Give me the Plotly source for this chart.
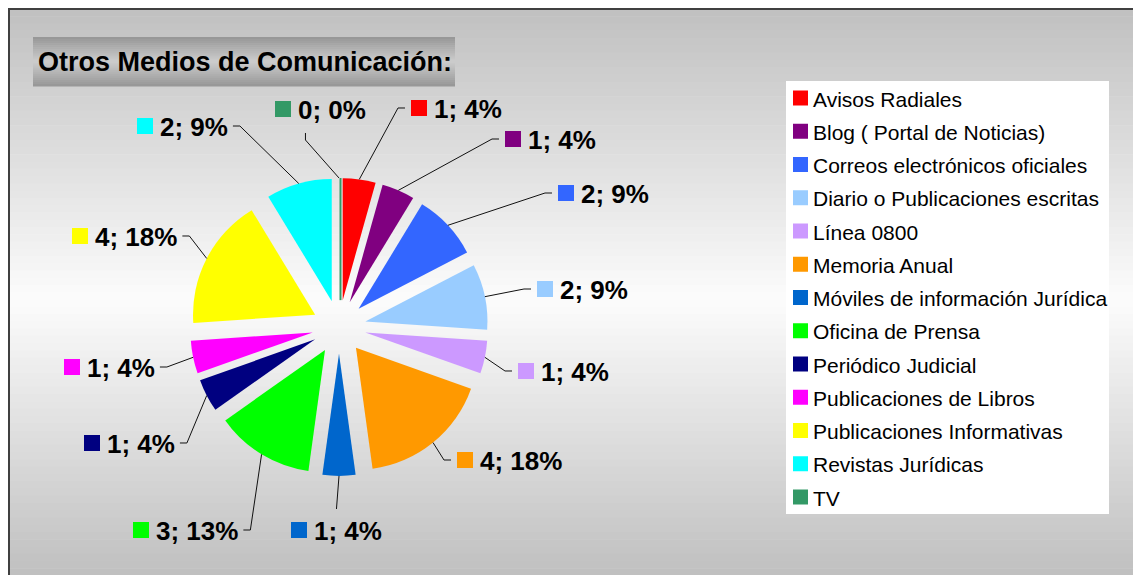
import math
import plotly.graph_objects as go

# ---------------- data ----------------
categories = [
    "Avisos Radiales", "Blog ( Portal de Noticias)", "Correos electrónicos oficiales",
    "Diario o Publicaciones escritas", "Línea 0800", "Memoria Anual",
    "Móviles de información Jurídica", "Oficina de Prensa", "Periódico Judicial",
    "Publicaciones de Libros", "Publicaciones Informativas", "Revistas Jurídicas", "TV",
]
values = [1, 1, 2, 2, 1, 4, 1, 3, 1, 1, 4, 2, 0]
pct_labels = [4, 4, 9, 9, 4, 18, 4, 13, 4, 4, 18, 9, 0]
title_text = "Otros Medios de Comunicación:"

# ---------------- styles / layout ----------------
colors = ["#FF0000", "#800080", "#3366FF", "#99CCFF", "#CC99FF", "#FF9900",
          "#0066CC", "#00FF00", "#000080", "#FF00FF", "#FFFF00", "#00FFFF", "#339966"]
W, H = 1141, 575
OFF = 8                    # page body margin compensation
CX, CY = 339, 327          # pie centre (screen px)
R_TOT = 149                # radius incl. explode (px)
PULL = 0.22
R_PIE = R_TOT / (1 + PULL)
FONT = "Liberation Sans, Arial, sans-serif"
LBL_SIZE = 26

# label placement: (square-left x, centre y, connection side)
label_layout = [
    (411, 108, "L"), (505, 139, "L"), (558, 193, "L"), (537, 289, "L"),
    (518, 371, "L"), (457, 460, "L"), (291, 530, "T"), (133, 530, "R"),
    (84, 443, "R"), (64, 367, "R"), (72, 236, "R"), (137, 126, "R"), (275, 109, "B"),
]


def px(x):
    return (x - OFF) / W


def py(y):
    return 1 - (y - OFF) / H


BOLD_W = {"0": .556, "1": .556, "2": .556, "3": .556, "4": .556, "5": .556, "6": .556,
          "7": .556, "8": .556, "9": .556, ";": .333, " ": .278, "%": .889}


def text_w(s):
    return sum(BOLD_W.get(c, .6) for c in s) * LBL_SIZE


shapes = []
annotations = []


def lerp(c1, c2, t):
    return tuple(round(a + (b - a) * t) for a, b in zip(c1, c2))


# background gradient
stops = [(9, (192, 192, 192)), (300, (252, 252, 252)), (590, (188, 188, 188))]
N = 80
y0, y1 = 9, 590
for i in range(N):
    ya = y0 + (y1 - y0) * i / N
    yb = y0 + (y1 - y0) * (i + 1) / N
    ym = (ya + yb) / 2
    for (sa, ca), (sb, cb) in zip(stops[:-1], stops[1:]):
        if sa <= ym <= sb:
            c = lerp(ca, cb, (ym - sa) / (sb - sa))
            break
    shapes.append(dict(type="rect", xref="paper", yref="paper", layer="below",
                       x0=px(9), x1=px(1139), y0=py(ya), y1=py(yb + 0.6),
                       fillcolor="rgb(%d,%d,%d)" % c, line=dict(width=0)))
# border
shapes.append(dict(type="rect", xref="paper", yref="paper", layer="below",
                   x0=px(9), x1=px(1139), y0=py(9), y1=py(590),
                   line=dict(color="#404040", width=2), fillcolor="rgba(0,0,0,0)"))

# title box gradient
tb = (33, 37, 455, 86)
TN = 24
for i in range(TN):
    ya = tb[1] + (tb[3] - tb[1]) * i / TN
    yb = tb[1] + (tb[3] - tb[1]) * (i + 1) / TN
    t = ((ya + yb) / 2 - tb[1]) / (tb[3] - tb[1])
    c = lerp((150, 150, 150), (205, 205, 205), 1 - abs(2 * t - 1))
    shapes.append(dict(type="rect", xref="paper", yref="paper", layer="below",
                       x0=px(tb[0]), x1=px(tb[2]), y0=py(ya), y1=py(yb + 0.6),
                       fillcolor="rgb(%d,%d,%d)" % c, line=dict(width=0)))
annotations.append(dict(xref="paper", yref="paper", x=px(36), y=py(62),
                        xanchor="left", yanchor="middle", showarrow=False,
                        text="<b>%s</b>" % title_text,
                        font=dict(family=FONT, size=27, color="black")))

# legend box
LG = (786, 81, 1109, 514)
shapes.append(dict(type="rect", xref="paper", yref="paper", layer="below",
                   x0=px(LG[0]), x1=px(LG[2]), y0=py(LG[1]), y1=py(LG[3]),
                   fillcolor="white", line=dict(width=0)))
step = 33.25
for i, (cat, col) in enumerate(zip(categories, colors)):
    yc = 98 + i * step
    shapes.append(dict(type="rect", xref="paper", yref="paper", layer="above",
                       x0=px(793), x1=px(808), y0=py(yc - 7.5), y1=py(yc + 7.5),
                       fillcolor=col, line=dict(width=0)))
    annotations.append(dict(xref="paper", yref="paper", x=px(811), y=py(yc + 1),
                            xanchor="left", yanchor="middle", showarrow=False,
                            text=cat, font=dict(family=FONT, size=21, color="black")))

# data labels + leader lines
total = sum(values)
cum = 0
for i, v in enumerate(values):
    mid = (cum + v / 2) / total * 2 * math.pi
    cum += v
    ex, ey = CX + R_TOT * math.sin(mid), CY - R_TOT * math.cos(mid)
    sx, sy, side = label_layout[i]
    txt = "%d; %d%%" % (v, pct_labels[i])
    tx = sx + 23
    tw = text_w(txt)
    shapes.append(dict(type="rect", xref="paper", yref="paper", layer="above",
                       x0=px(sx), x1=px(sx + 16), y0=py(sy - 8), y1=py(sy + 8),
                       fillcolor=colors[i], line=dict(width=0)))
    annotations.append(dict(xref="paper", yref="paper", x=px(tx - 2), y=py(sy + 1),
                            xanchor="left", yanchor="middle", showarrow=False,
                            text="<b>%s</b>" % txt,
                            font=dict(family=FONT, size=LBL_SIZE, color="black")))
    if side == "L":
        pts = [(sx - 6, sy), (sx - 13, sy), (ex, ey)]
    elif side == "R":
        rx = tx + tw
        pts = [(rx + 5, sy), (rx + 12, sy), (ex, ey)]
    elif side == "T":
        gx = (sx + tx + tw) / 2
        pts = [(gx, sy - 21), (ex, ey)]
    else:
        gx = (sx + tx + tw) / 2
        pts = [(gx - 15, sy + 24), (gx - 15, sy + 31), (ex, ey)]
    path = "M " + " L ".join("%.5f,%.5f" % (px(a), py(b)) for a, b in pts)
    shapes.append(dict(type="path", xref="paper", yref="paper", layer="above",
                       path=path, line=dict(color="#111111", width=1)))
    if v == 0:
        # zero-value slice drawn as a thin edge
        bx, by = CX + R_PIE * PULL * math.sin(mid), CY - R_PIE * PULL * math.cos(mid)
        shapes.append(dict(type="line", xref="paper", yref="paper", layer="above",
                           x0=px(bx + 1.5), y0=py(by), x1=px(ex + 1.5), y1=py(ey),
                           line=dict(color=colors[i], width=2)))

fig = go.Figure(go.Pie(
    labels=categories, values=values, sort=False, direction="clockwise", rotation=0,
    pull=[PULL] * len(values), marker=dict(colors=colors, line=dict(width=0)),
    textinfo="none", hoverinfo="label+value+percent",
    domain=dict(x=[(CX - OFF - R_TOT) / W, (CX - OFF + R_TOT) / W],
                y=[(H - (CY - OFF) - R_TOT) / H, (H - (CY - OFF) + R_TOT) / H]),
))
fig.update_layout(
    width=W, height=H, margin=dict(l=0, r=0, t=0, b=0),
    paper_bgcolor="white", plot_bgcolor="white", showlegend=False,
    shapes=shapes, annotations=annotations,
)
fig.write_html("out.html")
